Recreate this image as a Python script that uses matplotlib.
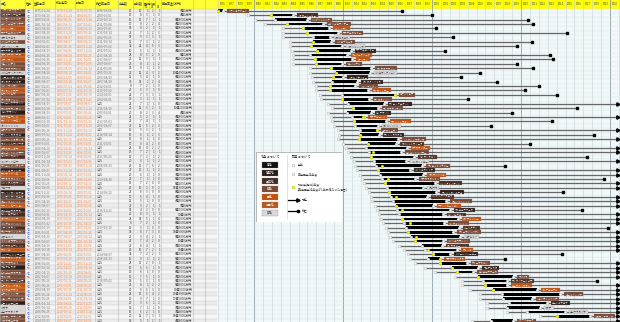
import numpy as np
import pandas as pd
import matplotlib
matplotlib.use("Agg")
import matplotlib.pyplot as plt
from matplotlib.patches import Rectangle

plt.rcParams["font.family"] = ["Noto Sans CJK JP", "DejaVu Sans"]

nan = np.nan

# ------------------------------------------------------------------ data
names = ["トウショウボーイ", "ミスターシービー", "シンボリルドルフ", "ニホンピロウイナー", "ミホシンザン",
         "サクラユタカオー", "タマモクロス", "メジロラモーヌ", "オグリキャップ", "サクラチヨノオー",
         "スーパークリーク", "イナリワン", "ヤエノムテキ", "アイネスフウジン", "メジロマックイーン",
         "トウカイテイオー", "ダイタクヘリオス", "ミホノブルボン", "ライスシャワー", "ビワハヤヒデ",
         "ナリタタイシン", "ウイニングチケット", "ナリタブライアン", "ヒシアマゾン", "サクラローレル",
         "マヤノトップガン", "タイキシャトル", "エアグルーヴ", "サイレンススズカ", "シルクジャスティス",
         "スペシャルウィーク", "グラスワンダー", "エルコンドルパサー", "セイウンスカイ", "キングヘイロー",
         "テイエムオペラオー", "メイショウドトウ", "アドマイヤベガ", "アグネスタキオン", "ジャングルポケット",
         "クロフネ", "マンハッタンカフェ", "シンボリクリスエス", "タニノギムレット", "ファインモーション",
         "ネオユニヴァース", "ゼンノロブロイ", "ダイワメジャー", "キングカメハメハ", "ハーツクライ",
         "ディープインパクト", "カネヒキリ", "メイショウサムソン", "ダイワスカーレット", "ウオッカ",
         "ドリームジャーニー", "アサクサキングス", "ディープスカイ", "ブエナビスタ", "ロジユニヴァース",
         "アパパネ", "ヴィクトワールピサ", "ローズキングダム", "オルフェーヴル", "ゴールドシップ",
         "ジェンティルドンナ", "ロードカナロア", "キズナ", "エピファネイア", "キタサンブラック", "イスラボニータ"]

sex = [0, 0, 0, 0, 0, 0, 0, 1, 0, 0, 0, 0, 0, 0, 0, 0, 0, 0, 0, 0,
       0, 0, 0, 1, 0, 0, 0, 1, 0, 0, 0, 0, 0, 0, 0, 0, 0, 0, 0, 0,
       0, 0, 0, 0, 1, 0, 0, 0, 0, 0, 0, 0, 0, 1, 1, 0, 0, 0, 1, 0,
       1, 0, 0, 0, 0, 1, 0, 0, 0, 0, 0]

# coat colour index -> coat_names / coat_colors
coat = [3, 2, 3, 3, 4, 3, 6, 3, 6, 1, 4, 4, 3, 3, 6, 1, 1, 3, 4, 3,
        3, 1, 3, 1, 4, 4, 6, 3, 1, 3, 2, 4, 3, 2, 6, 3, 1, 4, 3, 2,
        6, 1, 2, 3, 4, 1, 2, 4, 3, 2, 3, 6, 3, 2, 4, 1, 4, 3, 1, 3,
        3, 2, 4, 4, 3, 3, 1, 6, 6, 3, 3]
coat_names = ["青毛", "青鹿毛", "黒鹿毛", "鹿毛", "栗毛", "栃栗毛", "芦毛"]
coat_colors = ["#111111", "#2e1c16", "#4a2b20", "#7a4a37", "#c4520f", "#b85a20", "#d9d9d9"]

birth = [1975.9, 1979.3, 1980.1, 1981.2, 1983.3, 1983.3, 1983.3, 1984.0, 1984.0, 1984.3,
         1984.4, 1984.4, 1984.4, 1986.3, 1986.3, 1986.5, 1986.6,
         1987.0, 1987.0, 1987.4, 1987.5, 1988.3, 1988.8, 1988.3, 1988.7, 1988.8, 1989.0,
         1989.4, 1989.5, 1989.4, 1990.0,
         1990.3, 1990.6, 1990.9, 1991.2, 1991.4, 1991.6, 1991.9, 1992.1, 1992.4, 1992.6,
         1992.9, 1993.1, 1993.3, 1993.6, 1993.8, 1994.0, 1994.3, 1994.5, 1994.8, 1995.0, 1995.3,
         1995.6, 1996.3, 1996.8, 1997.3, 1997.5, 1998.1, 1999.2, 2000.3, 2002.6, 2003.4,
         2003.4, 2004.3, 2005.4, 2005.4, 2006.2, 2006.2, 2008.4, 2012.1, 2004.5]

debut = [1975.9, 1981.9, 1982.4, 1983.7, 1985.5, 1985.9, 1986.6, 1986.6, 1986.4, 1987.1,
         1986.3, 1986.9, 1987.0, 1988.6, 1989.2, 1988.85, 1988.8,
         1988.5, 1988.5, 1989.85, 1989.85, 1990.6, 1991.1, 1990.5, 1991.0, 1991.2, 1991.4,
         1991.9, 1991.9, 1991.8, 1992.8,
         1992.6, 1992.9, 1993.2, 1993.5, 1993.7, 1993.9, 1994.2, 1994.4, 1994.7, 1994.9,
         1995.2, 1995.4, 1995.6, 1995.9, 1996.1, 1996.3, 1996.6, 1996.8, 1997.1, 1997.3, 1997.6,
         1998.1, 1998.85, 1999.2, 2000.1, 1999.55, 2000.9, 2002.25, 2002.8, 2005.2, 2005.7,
         2006.0, 2006.8, 2007.9, 2008.0, 2008.6, 2008.4, 2010.7, 2014.1, 2006.6]

first_win = [1975.9, 1981.9, nan, 1983.7, 1985.5, 1985.9, nan, 1986.6, 1986.4, 1987.1,
             nan, 1986.9, 1987.0, 1988.6, 1989.2, 1988.85, nan,
             1988.5, 1988.5, 1995.8, 1989.85, nan, 1991.1, nan, 1992.3, 1991.2, nan,
             1993.8, 1991.9, 1991.8, 1992.8,
             nan, 1993.4, 1993.2, nan, 1994.4, 1993.9, nan, 1995.0, 1994.7, nan,
             1995.2, 1996.0, nan, 1995.9, 1996.6, nan, 1996.6, 1997.5, nan, 1997.3, 1998.2,
             1998.1, nan, 1999.6, 2000.1, 2000.9, 2000.9, 2002.25, 2002.8, 2005.2, nan,
             2006.0, 2006.8, nan, nan, nan, nan, nan, 2014.1, nan]

retire = [1976.55, 1984.35, 1985.9, 1987.75, 1988.4, 1989.4, 1988.5, 1988.7, 1989.9, 1990.9,
          1990.4, 1991.0, 1989.85, 1993.2, 1993.0, 1990.0, 1991.6,
          1991.35, 1992.8, 1995.8, 1992.9, 1994.6, 1993.9, 1993.1, 1992.4, 1994.8, 1993.9,
          1993.8, 1994.0, 1996.2, 1996.0,
          1997.2, 1996.5, 1998.0, 1997.1, 1998.9, 1997.5, 1999.0, 1998.1, 2000.3, 1999.0,
          2000.5, 1999.4, 2001.6, 2000.1, 2002.0, 2001.2, 2002.9, 2001.3, 2003.0, 2002.4, 2003.2,
          2001.2, 2001.1, 2002.8, 2002.0, 2000.9, 2003.9, 2005.2, 2004.6, 2009.1, 2008.4,
          2008.4, 2011.8, 2014.4, 2011.2, 2012.9, 2012.1, 2014.9, 2017.75, 2009.1]

death = [1996.6, 2000.0, 2010.8, 2011.35, 2000.5, 2015.2, 2002.4, 2011.2, 2009.5, 2001.5,
         2013.3, 2013.6, 2009.6, 2011.35, 2005.4, 2003.3, 2007.3,
         2012.0, 2010.5, 2014.0, 2004.0, nan, 2016.3, 2009.0, nan, 2013.5, 2006.6,
         nan, 2018.2, nan, 2011.0,
         nan, nan, 2017.4, nan, 2008.2, nan, nan, 2019.3, nan, nan,
         2014.7, nan, nan, nan, 2016.9, nan, nan, nan, 2019.8, nan, nan,
         nan, nan, nan, 2014.6, 2008.2, nan, nan, nan, nan, 2018.5,
         nan, nan, nan, nan, nan, nan, nan, nan, nan]

starts = [15, 15, 16, 17, 18, 23, 18, 12, 32, 10, 28, 25, 23, 14, 21, 12, 35, 8, 25, 22,
          19, 22, 21, 20, 22, 21, 27, 19, 16, 16, 17, 28, 13, 19, 20, 26, 27, 20, 25, 19,
          26, 23, 17, 12, 29, 14, 20, 28, 8, 19, 14, 23, 26, 27, 26, 32, 16, 28, 10, 19,
          13, 14, 21, 20, 28, 19, 20, 14, 16, 20, 14]
wins = [10, 8, 13, 8, 8, 7, 9, 7, 22, 5, 8, 12, 8, 8, 12, 5, 14, 7, 6, 7,
        3, 7, 12, 8, 5, 7, 12, 9, 6, 8, 9, 15, 7, 7, 6, 11, 11, 6, 7, 7,
        10, 8, 6, 5, 9, 4, 8, 14, 7, 9, 8, 9, 7, 8, 10, 7, 9, 11, 5, 8,
        7, 5, 8, 6, 13, 9, 9, 7, 6, 12, 5]
g1 = [1, 3, 7, 2, 2, 1, 3, 3, 4, 1, 3, 3, 1, 1, 4, 4, 1, 2, 3, 3,
      1, 1, 3, 2, 2, 4, 5, 3, 1, 1, 4, 4, 2, 2, 1, 7, 1, 1, 1, 2,
      2, 3, 4, 1, 2, 2, 3, 5, 2, 1, 7, 4, 4, 4, 7, 2, 1, 2, 6, 1,
      5, 3, 1, 6, 6, 7, 6, 1, 2, 7, 1]
g2 = [2, 1, 1, 2, 1, 2, 3, 1, 5, 1, 2, 1, 1, 1, 3, 1, 2, 1, 1, 3,
      1, 1, 2, 3, 1, 1, 2, 2, 2, 1, 2, 2, 1, 1, 1, 5, 1, 1, 1, 0,
      0, 0, 1, 0, 1, 0, 1, 1, 1, 0, 3, 2, 2, 1, 2, 2, 1, 0, 1, 0,
      1, 1, 2, 3, 4, 1, 1, 1, 1, 3, 2]
g3 = [1, 0, 1, 4, 1, 3, 1, 2, 3, 1, 0, 1, 2, 0, 2, 0, 4, 0, 0, 1,
      1, 0, 1, 4, 1, 1, 3, 1, 3, 0, 0, 2, 1, 2, 2, 2, 2, 0, 0, 0,
      2, 0, 0, 0, 1, 0, 1, 4, 0, 0, 0, 1, 0, 1, 1, 1, 2, 1, 0, 0,
      0, 0, 2, 0, 2, 0, 2, 0, 0, 1, 1]
prize = [30000, 40000, 68000, 43000, 58000, 41000, 39000, 38000, 91000, 49000,
         50000, 44000, 41000, 53000, 104000, 62000, 35000, 36000, 51000, 58000,
         33000, 41000, 102000, 40000, 48000, 43000, 49000, 59000, 45000, 79000,
         31000, 47000, 44000, 59000, 67000, 45000, 68000, 33000, 57000, 52000,
         183000, 89000, 47000, 45000, 70000, 57000, 110000, 71000, 81000, 79000,
         145000, 68000, 100000, 79000, 130000, 66000, 57000, 81000, 44000, 87000,
         75000, 66000, 55000, 155000, 139000, 175000, 65000, 74000, 74000, 187000, 48000]

years = list(range(1976, 2022))

n = len(names)
for arr in (sex, coat, birth, debut, first_win, retire, death, starts, wins, g1, g2, g3, prize):
    assert len(arr) == n

# ------------------------------------------------------------------ layout
W, H = 620, 322
TOP = 8.5          # header height, px
ROW = 4.43         # row height, px
GX = 217           # gantt left edge, px
FS = 2.2


def ymd(v):
    if np.isnan(v):
        return "存命"
    d = pd.Timestamp(int(v), 1, 1) + pd.Timedelta(days=int((v % 1) * 364))
    return d.strftime("%Y/%m/%d")


def yen(p):
    return f"{p // 10000}億{p % 10000}万円" if p >= 10000 else f"{p}万円"


fig = plt.figure(figsize=(W / 100, H / 100), dpi=100)
fig.patch.set_facecolor("white")

# ------------------------------------------------------------------ table
ax_t = fig.add_axes([0, 0, GX / W, 1])
ax_t.set_xlim(0, GX)
ax_t.set_ylim(H, 0)
ax_t.axis("off")

cols = [("馬名", 0, 25), ("性別", 25, 33), ("生年月日", 33, 55), ("初出走日", 55, 75),
        ("引退日", 75, 95), ("死亡年月日", 95, 118), ("出走数", 118, 133), ("勝利数", 133, 143),
        ("G1", 143, 149), ("G2", 149, 155), ("G3", 155, 161), ("獲得賞金(万円)", 161, 193),
        ("", 193, 205), ("", 205, 217)]

ax_t.add_patch(Rectangle((0, 0), GX, TOP, facecolor="#ffff33", edgecolor="none"))
for label, x0, x1 in cols:
    ax_t.plot([x0, x0], [0, H], color="#b4b4b4", lw=0.4)
    if label.startswith("G"):
        ax_t.text((x0 + x1) / 2, TOP - 2, label, fontsize=1.8, ha="center", va="center", color="#333333")
    else:
        ax_t.text(x0 + 1, 2.8, label, fontsize=FS, ha="left", va="center", color="#333333")
ax_t.text(144, 2.8, "重賞勝利数", fontsize=1.8, ha="left", va="center", color="#333333")

for i in range(n):
    y0 = TOP + i * ROW
    yc = y0 + ROW / 2
    shade = "#ececec" if i % 2 == 0 else "#f6f6f6"
    ax_t.add_patch(Rectangle((25, y0), GX - 25, ROW, facecolor=shade, edgecolor="none", zorder=0))
    c = coat[i]
    ax_t.add_patch(Rectangle((0, y0), 25, ROW, facecolor=coat_colors[c], edgecolor="none", zorder=1))
    ax_t.text(1, yc, names[i], fontsize=1.9, va="center", ha="left",
              color="#333333" if c == 6 else "white", zorder=2)
    ax_t.text(27, yc, "牝" if sex[i] else "牡", fontsize=1.9, va="center",
              color="#e03030" if sex[i] else "#3a5ee0")
    ax_t.text(35, yc, ymd(birth[i]), fontsize=FS, va="center", color="#707070")
    ax_t.text(57, yc, ymd(debut[i]), fontsize=FS, va="center", color="#e8864a")
    ax_t.text(77, yc, ymd(retire[i]), fontsize=FS, va="center", color="#e8864a")
    ax_t.text(97, yc, ymd(death[i]), fontsize=FS, va="center", color="#707070")
    ax_t.text(132, yc, str(starts[i]), fontsize=FS, va="center", ha="right", color="#404040")
    ax_t.text(142, yc, str(wins[i]), fontsize=FS, va="center", ha="right", color="#404040")
    for v, xr in zip((g1[i], g2[i], g3[i]), (148, 154, 160)):
        ax_t.text(xr, yc, str(v), fontsize=FS, va="center", ha="right", color="#404040")
    ax_t.text(192, yc, yen(prize[i]), fontsize=FS, va="center", ha="right", color="#404040")
    ax_t.plot([0, GX], [y0, y0], color="#c4c4c4", lw=0.3)

# ------------------------------------------------------------------ gantt
x_lo = 1976 - (218.4 - GX) / 8.9
x_hi = 1976 + (W - 218.4) / 8.9
y_top = -TOP / ROW
y_bot = (H - TOP) / ROW

ax = fig.add_axes([GX / W, 0, (W - GX) / W, 1])
ax.set_xlim(x_lo, x_hi)
ax.set_ylim(y_bot, y_top)
ax.axis("off")
ax.add_patch(Rectangle((x_lo, 0), x_hi - x_lo, y_bot, facecolor="#f1f8fa", edgecolor="none", zorder=0))
ax.add_patch(Rectangle((x_lo, y_top), x_hi - x_lo, -y_top, facecolor="#ffff00", edgecolor="none", zorder=1))
for yr in years:
    dec = yr % 10 == 0
    ax.plot([yr, yr], [y_top, y_bot], color="#8c9ca4" if dec else "#c4d2d8",
            lw=0.6 if dec else 0.4, zorder=1)
    if yr < x_hi - 0.5:
        ax.text(yr + 0.5, y_top / 2, str(yr), fontsize=1.9, ha="center", va="center", color="#444444", zorder=2)
for i in range(n + 1):
    ax.plot([x_lo, x_hi], [i, i], color="#d6e2e6", lw=0.3, zorder=1)

MS = 2.0
for i in range(n):
    y = i + 0.5
    alive = np.isnan(death[i])
    end = x_hi - 0.25 if alive else death[i]
    ax.plot([birth[i], end], [y, y], color="#666666", lw=0.9, zorder=3, solid_capstyle="butt")
    ax.barh(y, retire[i] - debut[i], left=debut[i], height=0.6, color="black", zorder=4)
    for xv in (birth[i], debut[i], retire[i]):
        ax.plot(xv, y, "o", ms=MS, mfc="white", mec="#a8a8a8", mew=0.3, zorder=5)
    if not np.isnan(first_win[i]):
        ax.plot(first_win[i], y, "o", ms=MS, mfc="#ffff00", mec="#b8b800", mew=0.3, zorder=6)
    if alive:
        ax.plot(end, y, ">", ms=2.4, color="black", zorder=5)
    else:
        ax.plot(end, y, "s", ms=1.8, color="black", zorder=5)
    c = coat[i]
    lw_ = (len(names[i]) * 2.3 + 3) / 8.9
    lx = retire[i] + 0.45
    ax.add_patch(Rectangle((lx, y - 0.45), lw_, 0.9, facecolor=coat_colors[c],
                           edgecolor="#888888", lw=0.2, zorder=6))
    ax.text(lx + lw_ / 2, y, names[i], fontsize=1.7, ha="center", va="center",
            color="#333333" if c == 6 else "white", zorder=7)

# ------------------------------------------------------------------ legend box
lg = fig.add_axes([256 / W, 1 - 222 / H, 86 / W, 70 / H])
lg.set_xlim(0, 86)
lg.set_ylim(70, 0)
lg.axis("off")
lg.add_patch(Rectangle((0, 0), 86, 70, facecolor="white", edgecolor="#a0a0a0", lw=0.5))
lg.text(5, 5, "毛色について", fontsize=2.3, va="center", color="#333333")
for k, (cn, cc) in enumerate(zip(coat_names, coat_colors)):
    yk = 13 + k * 8
    lg.add_patch(Rectangle((6, yk - 2.7), 16, 5.4, facecolor=cc, edgecolor="#777777", lw=0.2))
    lg.text(14, yk, cn, fontsize=2.1, ha="center", va="center", color="#333333" if k == 6 else "white")
lg.plot([31, 31], [3, 67], color="#9a9a9a", lw=0.4, ls=(0, (1, 1)))
lg.text(36, 5, "記号について", fontsize=2.3, va="center", color="#333333")
lg.plot(37, 13, "o", ms=MS, mfc="white", mec="#9a9a9a", mew=0.3)
lg.text(42, 13, "生年", fontsize=2.1, va="center", color="#333333")
lg.plot(37, 22, "o", ms=MS, mfc="white", mec="#9a9a9a", mew=0.3)
lg.text(42, 22, "競走馬生活年度", fontsize=2.1, va="center", color="#333333")
lg.plot(37, 35, "o", ms=MS, mfc="#ffff00", mec="#b0b000", mew=0.3)
lg.text(42, 33.5, "初出走(勝利)年度", fontsize=2.1, va="center", color="#333333")
lg.text(42, 37.5, "(競走馬生活年度が1年未満だった場合)", fontsize=2.1, va="center", color="#333333")
lg.plot([32, 42], [48, 48], color="black", lw=0.9)
lg.plot(42, 48, ">", ms=2.4, color="black")
lg.text(46, 48, "現在", fontsize=2.1, va="center", color="#333333")
lg.plot([32, 42], [59, 59], color="black", lw=0.9)
lg.plot(42, 59, "s", ms=1.8, color="black")
lg.text(46, 59, "死亡", fontsize=2.1, va="center", color="#333333")

fig.savefig("out.png", dpi=100)
